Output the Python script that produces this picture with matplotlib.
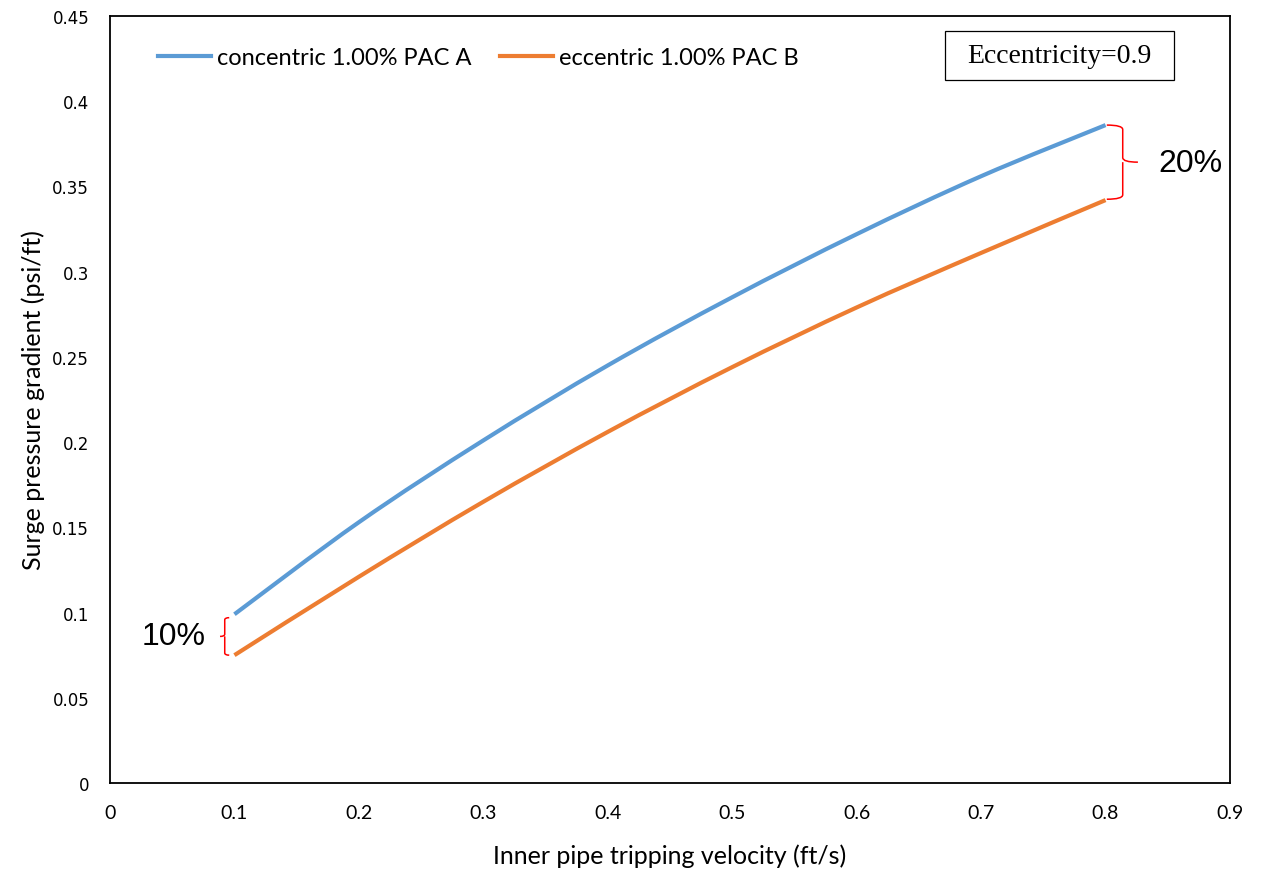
import numpy as np
import matplotlib
matplotlib.use("Agg")
import matplotlib.pyplot as plt
from matplotlib import font_manager as fm
from matplotlib.path import Path
from matplotlib.patches import PathPatch, Rectangle

# Surge pressure gradient vs. inner pipe tripping velocity
velocity = [0.1, 0.2, 0.3, 0.4, 0.5, 0.6, 0.7, 0.8]
concentric_pac_a = [0.099, 0.153, 0.201, 0.245, 0.285, 0.322, 0.356, 0.386]
eccentric_pac_b = [0.075, 0.121, 0.165, 0.206, 0.244, 0.279, 0.311, 0.342]

series_labels = ["concentric 1.00% PAC A", "eccentric 1.00% PAC B"]
x_ticks = [0, 0.1, 0.2, 0.3, 0.4, 0.5, 0.6, 0.7, 0.8, 0.9]
y_ticks = [0, 0.05, 0.1, 0.15, 0.2, 0.25, 0.3, 0.35, 0.4, 0.45]
x_title = "Inner pipe tripping velocity (ft/s)"
y_title = "Surge pressure gradient (psi/ft)"
note_text = "Eccentricity=0.9"
low_gap_text = "10%"
high_gap_text = "20%"

BLUE = "#5B9BD5"
ORANGE = "#ED7D31"


def pick_font(candidates, default="DejaVu Sans"):
    for name in candidates:
        try:
            fm.findfont(fm.FontProperties(family=name), fallback_to_default=False)
            return name
        except Exception:
            continue
    return default


body = pick_font(["Lato", "Open Sans", "Liberation Sans"])
serif = pick_font(["Liberation Serif", "DejaVu Serif"])
sans = pick_font(["Liberation Sans", "DejaVu Sans"])


def smooth_path(xs, ys):
    """Cubic Bezier path through the points (Catmull-Rom style tangents)."""
    xs = np.asarray(xs, float)
    ys = np.asarray(ys, float)
    n = len(xs)
    verts = [(xs[0], ys[0])]
    codes = [Path.MOVETO]
    for i in range(n - 1):
        p0 = (xs[max(i - 1, 0)], ys[max(i - 1, 0)])
        p1 = (xs[i], ys[i])
        p2 = (xs[i + 1], ys[i + 1])
        p3 = (xs[min(i + 2, n - 1)], ys[min(i + 2, n - 1)])
        c1 = (p1[0] + (p2[0] - p0[0]) / 6, p1[1] + (p2[1] - p0[1]) / 6)
        c2 = (p2[0] - (p3[0] - p1[0]) / 6, p2[1] - (p3[1] - p1[1]) / 6)
        verts += [c1, c2, p2]
        codes += [Path.CURVE4] * 3
    return Path(verts, codes)


fig = plt.figure(figsize=(12.61, 8.70), dpi=100)
ax = fig.add_axes([110 / 1261, 86 / 870, 1120 / 1261, 767 / 870])

for ys, color, label in [(concentric_pac_a, BLUE, series_labels[0]),
                         (eccentric_pac_b, ORANGE, series_labels[1])]:
    ax.add_patch(PathPatch(smooth_path(velocity, ys), facecolor="none",
                           edgecolor=color, lw=3, capstyle="butt"))
    ax.plot([], [], color=color, lw=3, label=label)

ax.set_xlim(0, 0.9)
ax.set_ylim(0, 0.45)
ax.set_xticks(x_ticks)
ax.set_yticks(y_ticks)
ax.set_xticklabels([f"{v:g}" for v in x_ticks], fontfamily=body, fontsize=14)
ax.set_yticklabels([f"{v:g}" for v in y_ticks], fontfamily="DejaVu Sans", fontsize=12)
ax.tick_params(axis="both", length=0)
ax.tick_params(axis="x", pad=15)
ax.tick_params(axis="y", pad=15)
for s in ax.spines.values():
    s.set_color("black")
    s.set_linewidth(1.3)

ax.set_xlabel(x_title, fontfamily=body, fontsize=18, labelpad=16)
ax.set_ylabel(y_title, fontfamily=body, fontsize=18, labelpad=5)

ax.legend(loc="upper left", bbox_to_anchor=(0.0236, 0.9874), ncol=2, frameon=False,
          prop={"family": body, "size": 17}, handlelength=2.25,
          handletextpad=0.25, columnspacing=1.2)

# Eccentricity note box
ax.add_patch(Rectangle((0.7455, 0.9166), 0.2045, 0.0638, transform=ax.transAxes,
                       facecolor="white", edgecolor="black", lw=0.9))
ax.text(0.8478, 0.9485, note_text, transform=ax.transAxes, ha="center", va="center",
        fontfamily=serif, fontsize=20)


def brace(ax, x_base, x_mid, x_tip, y_lo, y_hi):
    """Curly brace spanning y_lo..y_hi; opens toward x_base, points toward x_tip."""
    ym = (y_lo + y_hi) / 2
    r = (y_hi - y_lo) * 0.06
    verts = [(x_base, y_hi), (x_mid, y_hi), (x_mid, y_hi - r),
             (x_mid, ym + r), (x_mid, ym), (x_tip, ym),
             (x_mid, ym), (x_mid, ym - r),
             (x_mid, y_lo + r), (x_mid, y_lo), (x_base, y_lo)]
    codes = [Path.MOVETO, Path.CURVE3, Path.CURVE3,
             Path.LINETO, Path.CURVE3, Path.CURVE3,
             Path.MOVETO, Path.LINETO,
             Path.LINETO, Path.CURVE3, Path.CURVE3]
    ax.add_patch(PathPatch(Path(verts, codes), facecolor="none", edgecolor="#FF0000",
                           lw=1.1, clip_on=False))


brace(ax, 0.0958, 0.0922, 0.0884, eccentric_pac_b[0], concentric_pac_a[0] - 0.002)
brace(ax, 0.801, 0.8138, 0.826, eccentric_pac_b[-1] + 0.0005, concentric_pac_a[-1])

ax.text(0.0765, 0.0865, low_gap_text, ha="right", va="center", fontfamily=sans, fontsize=23)
ax.text(0.8422, 0.364, high_gap_text, ha="left", va="center", fontfamily=sans, fontsize=23)

fig.savefig("out.png", dpi=100, facecolor="white")
